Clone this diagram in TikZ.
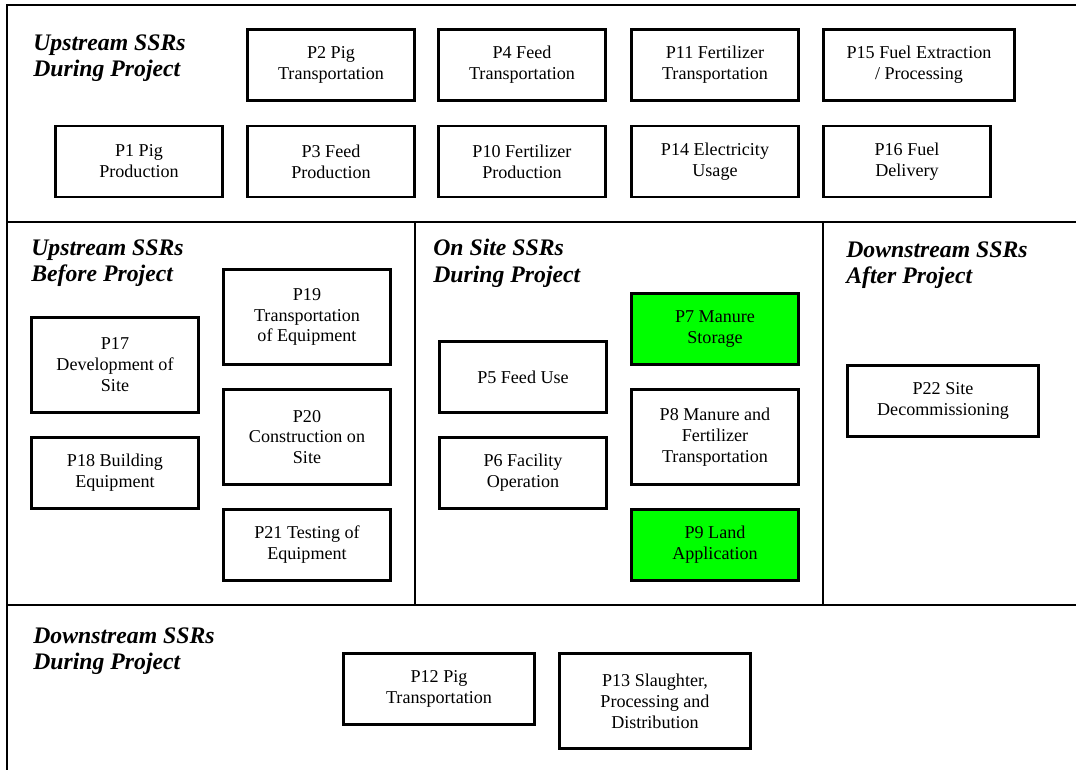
\documentclass[tikz,border=0pt]{standalone}
\usepackage{fontspec}
\setmainfont{Liberation Serif}
\definecolor{ssrFrame}{RGB}{0,0,0}
\definecolor{ssrGreen}{RGB}{0,255,0}

\begin{document}
\begin{tikzpicture}[x=.02cm,y=-.02cm,
      heading/.style={font=\fontsize{13.5}{15.3}\selectfont\bfseries\itshape,
        anchor=north west, align=left, inner sep=0pt},
      ssr/.style={draw=ssrFrame, line width=1.2pt, fill=white,
        font=\fontsize{10.3}{11.9}\selectfont, align=center, inner sep=0pt,
        minimum width=3.34cm, minimum height=1.42cm},
      wide/.style={minimum width=3.82cm},
      tall/.style={minimum height=1.90cm},
      manure/.style={fill=ssrGreen},
      frame/.style={draw=ssrFrame, line width=1.15pt}]
      \useasboundingbox (0,0) rectangle (1076,770);

      % Section frame.
      \draw[frame] (1076,5) -- (7,5) -- (7,770);
      \draw[frame] (7,222) -- (1076,222);
      \draw[frame] (7,605) -- (1076,605);
      \draw[frame] (415,222) -- (415,605);
      \draw[frame] (823,222) -- (823,605);

      % Upstream SSRs during project.
      \node[heading] (upDuring) at (33,34) {Upstream SSRs\\During Project};
      \node[ssr] (p2) at (331,65) {P2 Pig\\Transportation};
      \node[ssr] (p4) at (522,65) {P4 Feed\\Transportation};
      \node[ssr] (p11) at (715,65) {P11 Fertilizer\\Transportation};
      \node[ssr, wide] (p15) at (919,65) {P15 Fuel Extraction\\/ Processing};
      \node[ssr] (p1) at (139,161.5) {P1 Pig\\Production};
      \node[ssr] (p3) at (331,161.5) {P3 Feed\\Production};
      \node[ssr] (p10) at (522,161.5) {P10 Fertilizer\\Production};
      \node[ssr] (p14) at (715,161.5) {P14 Electricity\\Usage};
      \node[ssr] (p16) at (907,161.5) {P16 Fuel\\Delivery};

      % Upstream SSRs before project.
      \node[heading] (upBefore) at (31,239) {Upstream SSRs\\Before Project};
      \node[ssr, tall] (p17) at (115,365) {P17\\Development of\\Site};
      \node[ssr] (p18) at (115,473) {P18 Building\\Equipment};
      \node[ssr, tall] (p19) at (307,317) {P19\\Transportation\\of Equipment};
      \node[ssr, tall] (p20) at (307,437) {P20\\Construction on\\Site};
      \node[ssr] (p21) at (307,545) {P21 Testing of\\Equipment};

      % On site SSRs during project.
      \node[heading] (onSite) at (433,239) {On Site SSRs\\During Project};
      \node[ssr] (p5) at (523,377) {P5 Feed Use};
      \node[ssr] (p6) at (523,473) {P6 Facility\\Operation};
      \node[ssr, manure] (p7) at (715,329) {P7 Manure\\Storage};
      \node[ssr, tall] (p8) at (715,437)
        {P8 Manure and\\Fertilizer\\Transportation};
      \node[ssr, manure] (p9) at (715,545) {P9 Land\\Application};

      % Downstream SSRs after project.
      \node[heading] (downAfter) at (846,241) {Downstream SSRs\\After Project};
      \node[ssr, wide] (p22) at (943,401) {P22 Site\\Decommissioning};

      % Downstream SSRs during project.
      \node[heading] (downDuring) at (33,627)
        {Downstream SSRs\\During Project};
      \node[ssr, wide] (p12) at (439,689) {P12 Pig\\Transportation};
      \node[ssr, wide, tall] (p13) at (655,701)
        {P13 Slaughter,\\Processing and\\Distribution};
    \end{tikzpicture}
\end{document}
